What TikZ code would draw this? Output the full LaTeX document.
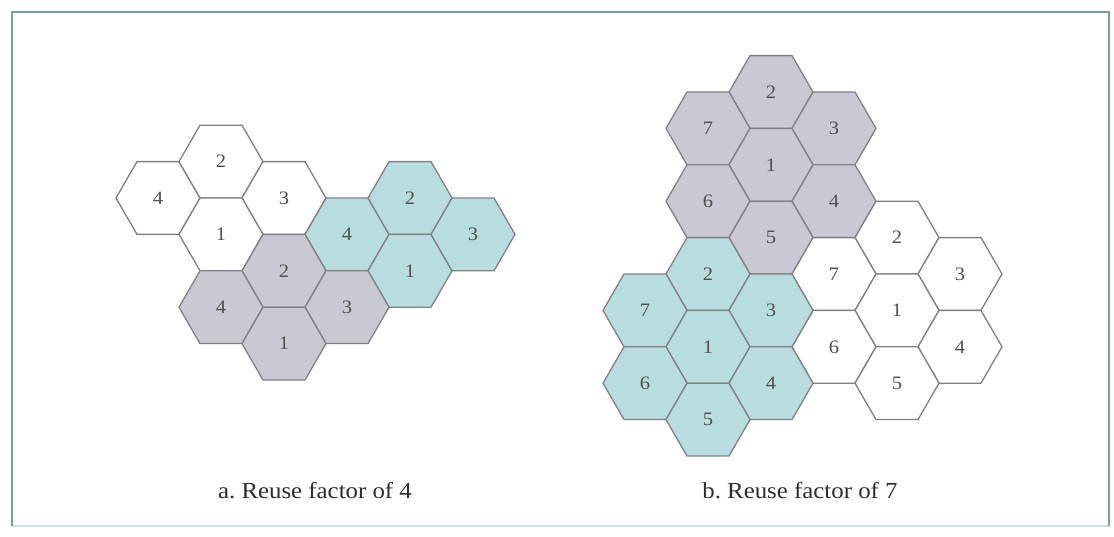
\documentclass[tikz,border=0pt]{standalone}
\usepackage{fontspec}
\setmainfont{Liberation Serif}
\newfontfamily\capfont[FakeStretch=1.08]{Liberation Serif}
\newfontfamily\digfont[FakeStretch=1.08]{Liberation Serif}
\usetikzlibrary{shapes.geometric}
\frenchspacing
\definecolor{hexline}{RGB}{128,128,134}
\definecolor{grayfill}{RGB}{201,201,212}
\definecolor{tealfill}{RGB}{184,221,222}
\definecolor{framecol}{RGB}{120,160,152}
\definecolor{framelight}{RGB}{200,225,222}
\definecolor{digcol}{RGB}{80,80,80}
\definecolor{capcol}{RGB}{45,45,45}
\tikzset{
  cell/.style={regular polygon, regular polygon sides=6, minimum size=84pt,
    inner sep=0pt, outer sep=0pt, draw=hexline, line width=1.3pt,
    text=digcol, font=\digfont\fontsize{19}{21}\selectfont},
  wcell/.style={cell, fill=white},
  gcell/.style={cell, fill=grayfill},
  tcell/.style={cell, fill=tealfill},
  caption/.style={font=\capfont\fontsize{23}{26}\selectfont, text=capcol, inner sep=0pt}
}
\begin{document}
\begin{tikzpicture}[x=1pt,y=-1pt]
\useasboundingbox (0,0) rectangle (1114,536);
\fill[white] (0,0) rectangle (1114,536);
% frame
\draw[framelight, line width=1.5pt] (12,526) -- (1109,526);
\draw[framecol, line width=1.6pt] (12,526) -- (12,12) -- (1109,12) -- (1109,526);
% ---------- panel a: reuse factor 4 ----------
\node[wcell] (aw4) at (158+0*63, 198+0*36.4) {4};
\node[wcell] (aw2) at (158+1*63, 198-1*36.4) {2};
\node[wcell] (aw3) at (158+2*63, 198+0*36.4) {3};
\node[wcell] (aw1) at (158+1*63, 198+1*36.4) {1};
\node[tcell] (at4) at (158+3*63, 198+1*36.4) {4};
\node[tcell] (at2) at (158+4*63, 198+0*36.4) {2};
\node[tcell] (at1) at (158+4*63, 198+2*36.4) {1};
\node[tcell] (at3) at (158+5*63, 198+1*36.4) {3};
\node[gcell] (ag2) at (158+2*63, 198+2*36.4) {2};
\node[gcell] (ag4) at (158+1*63, 198+3*36.4) {4};
\node[gcell] (ag3) at (158+3*63, 198+3*36.4) {3};
\node[gcell] (ag1) at (158+2*63, 198+4*36.4) {1};
% ---------- panel b: reuse factor 7 ----------
\node[gcell] (bg2) at (771+0*63, 92+0*36.4) {2};
\node[gcell] (bg7) at (771-1*63, 92+1*36.4) {7};
\node[gcell] (bg3) at (771+1*63, 92+1*36.4) {3};
\node[gcell] (bg1) at (771+0*63, 92+2*36.4) {1};
\node[gcell] (bg6) at (771-1*63, 92+3*36.4) {6};
\node[gcell] (bg4) at (771+1*63, 92+3*36.4) {4};
\node[gcell] (bg5) at (771+0*63, 92+4*36.4) {5};
\node[wcell] (bw2) at (771+2*63, 92+4*36.4) {2};
\node[wcell] (bw7) at (771+1*63, 92+5*36.4) {7};
\node[wcell] (bw3) at (771+3*63, 92+5*36.4) {3};
\node[wcell] (bw1) at (771+2*63, 92+6*36.4) {1};
\node[wcell] (bw6) at (771+1*63, 92+7*36.4) {6};
\node[wcell] (bw4) at (771+3*63, 92+7*36.4) {4};
\node[wcell] (bw5) at (771+2*63, 92+8*36.4) {5};
\node[tcell] (bt2) at (771-1*63, 92+5*36.4) {2};
\node[tcell] (bt7) at (771-2*63, 92+6*36.4) {7};
\node[tcell] (bt3) at (771+0*63, 92+6*36.4) {3};
\node[tcell] (bt1) at (771-1*63, 92+7*36.4) {1};
\node[tcell] (bt6) at (771-2*63, 92+8*36.4) {6};
\node[tcell] (bt4) at (771+0*63, 92+8*36.4) {4};
\node[tcell] (bt5) at (771-1*63, 92+9*36.4) {5};
% captions
\node[caption, anchor=base] (capa) at (315,498) {a. Reuse factor of 4};
\node[caption, anchor=base] (capb) at (800,498) {b. Reuse factor of 7};
\end{tikzpicture}
\end{document}
